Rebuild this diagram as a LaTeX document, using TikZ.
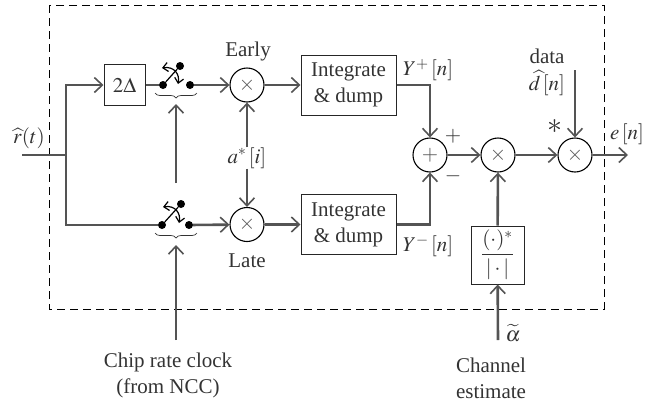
\documentclass[tikz,border=0pt]{standalone}
\usepackage{mathptmx}
\usepackage{fontspec}
\setmainfont{Liberation Serif}
\usetikzlibrary{arrows.meta,decorations.pathreplacing}
\definecolor{darkline}{gray}{0.33}
\definecolor{darktext}{gray}{0.2}
\tikzset{
  sig/.style={draw=darkline, line width=2.6pt},
  sigthin/.style={draw=darkline, line width=1.6pt},
  mixer/.style={circle, draw=black, line width=1.1pt, minimum size=34pt, inner sep=0pt, text=darkline},
  blockbox/.style={rectangle, draw=black!85, line width=1pt, inner sep=0pt, align=center, text=darktext},
  swdot/.style={circle, fill=black, minimum size=8pt, inner sep=0pt},
  lbl/.style={text=darktext, align=center, inner sep=0pt},
  grp/.style={draw=darktext, line width=0.7pt, decorate, decoration={brace, mirror, amplitude=5pt}},
}
\begin{document}
\begin{tikzpicture}[x=1pt, y=-1pt, >={Straight Barb[length=8pt,width=15pt,line width=1.6pt]},
    every node/.append style={font=\fontsize{21}{26}\selectfont}]
    \useasboundingbox (0,0) rectangle (661,402);
    \draw[draw=black, line width=1pt, dash pattern=on 8pt off 5pt] (49,5) rectangle (604,309);
    % input and branches
    \coordinate (rin) at (22,155);
    \coordinate (jn) at (66,155);
    \node[blockbox, minimum width=41pt, minimum height=41pt] (delay) at (124.5,85) {$2\Delta$};
    \node[swdot] (earlyA) at (163,85) {};
    \node[swdot] (earlyB) at (190,85) {};
    \node[swdot] (earlyC) at (180,66) {};
    \node[swdot] (lateA) at (162,225) {};
    \node[swdot] (lateB) at (189,225) {};
    \node[swdot] (lateC) at (181,204) {};
    \node[mixer] (mixE) at (247,85) {$\times$};
    \node[mixer] (mixL) at (247,224.5) {$\times$};
    \node[blockbox, minimum width=95pt, minimum height=60pt] (intE) at (348.5,85) {Integrate\\\& dump};
    \node[blockbox, minimum width=95pt, minimum height=60pt] (intL) at (348.5,224.5) {Integrate\\\& dump};
    \node[mixer] (sum) at (430,155) {$+$};
    \node[mixer] (mixC) at (498,155) {$\times$};
    \node[mixer] (mixD) at (575,155) {$\times$};
    \node[blockbox, minimum width=53pt, minimum height=58pt] (norm) at (497.5,255) {$\displaystyle\frac{(\cdot)^*}{|\cdot|}$};
    % labels
    \node[lbl] (rhat) at (29,138) {$\widehat{r}(t)$};
    \node[lbl] (early) at (248,51) {Early};
    \node[lbl] (late) at (247,261) {Late};
    \node[lbl] (code) at (247,158) {$a^*\,[i]$};
    \node[lbl] (yplus) at (428,70) {$Y^+\,[n]$};
    \node[lbl] (yminus) at (428,246) {$Y^-\,[n]$};
    \node[lbl] (plus) at (453,136) {$+$};
    \node[lbl] (minus) at (453,176) {$-$};
    \node[lbl] (dlab) at (547,56) {data};
    \node[lbl] (dhat) at (547,83) {$\widehat{d}\mkern2mu[n]$};
    \node[lbl, font=\fontsize{30}{30}\selectfont] (conj) at (555,127) {$*$};
    \node[lbl] (err) at (627,134) {$e\mkern2mu[n]$};
    \node[lbl] (atil) at (513,333) {$\widetilde{\alpha}$};
    \node[lbl] (chan) at (491,378) {Channel\\estimate};
    \node[lbl] (clock) at (168,375) {Chip rate clock\\(from NCC)};
    % free ends
    \coordinate (rout) at (628,155);
    \coordinate (dtop) at (575,70);
    \coordinate (atop) at (498,340);
    \coordinate (clkU) at (176,183);
    \coordinate (clkL) at (176,340);
    \coordinate (brU1) at (155,93);
    \coordinate (brU2) at (197,93);
    \coordinate (brL1) at (155,233);
    \coordinate (brL2) at (197,233);
    \coordinate (tipU) at (176,104);
    \coordinate (tipL) at (176,245);
    % upper and lower path
    \draw[sig] (rin) -- (jn);
    \draw[sig,->] (jn) |- (delay);
    \draw[sig] (jn) |- (lateA);
    \draw[sig] (delay) -- (earlyA);
    \draw[sig,->] (earlyB) -- (mixE);
    \draw[sig,->] (lateB) -- (mixL);
    \draw[sig,->] (mixE) -- (intE);
    \draw[sig,->] (mixL) -- (intL);
    \draw[sig,->] (intE) -| (sum);
    \draw[sig,->] (intL) -| (sum);
    \draw[sig,->] (sum) -- (mixC);
    \draw[sig,->] (mixC) -- (mixD);
    \draw[sig,->] (mixD) -- (rout);
    \draw[sig,->] (norm) -- (mixC);
    \draw[sig,->] (atop) -- (norm);
    \draw[sig,->] (dtop) -- (mixD);
    \draw[sig,->] (code) -- (mixE);
    \draw[sig,->] (code) -- (mixL);
    \draw[sigthin,->] (clkU) -- (tipU);
    \draw[sigthin,->] (clkL) -- (tipL);
    % switches
    \draw[black, line width=1.2pt] (earlyA) -- (earlyC);
    \draw[black, line width=1.2pt] (lateA) -- (lateC);
    \draw[black, line width=1.2pt, {Straight Barb[length=5pt,width=9pt]}-{Straight Barb[length=5pt,width=9pt]}]
      (162,68) .. controls (174,66) and (180,74) .. (178,84);
    \draw[black, line width=1.2pt, {Straight Barb[length=5pt,width=9pt]}-{Straight Barb[length=5pt,width=9pt]}]
      (163,207) .. controls (175,205) and (181,213) .. (179,223);
    \draw[grp] (brU1) -- (brU2);
    \draw[grp] (brL1) -- (brL2);
\end{tikzpicture}
\end{document}
